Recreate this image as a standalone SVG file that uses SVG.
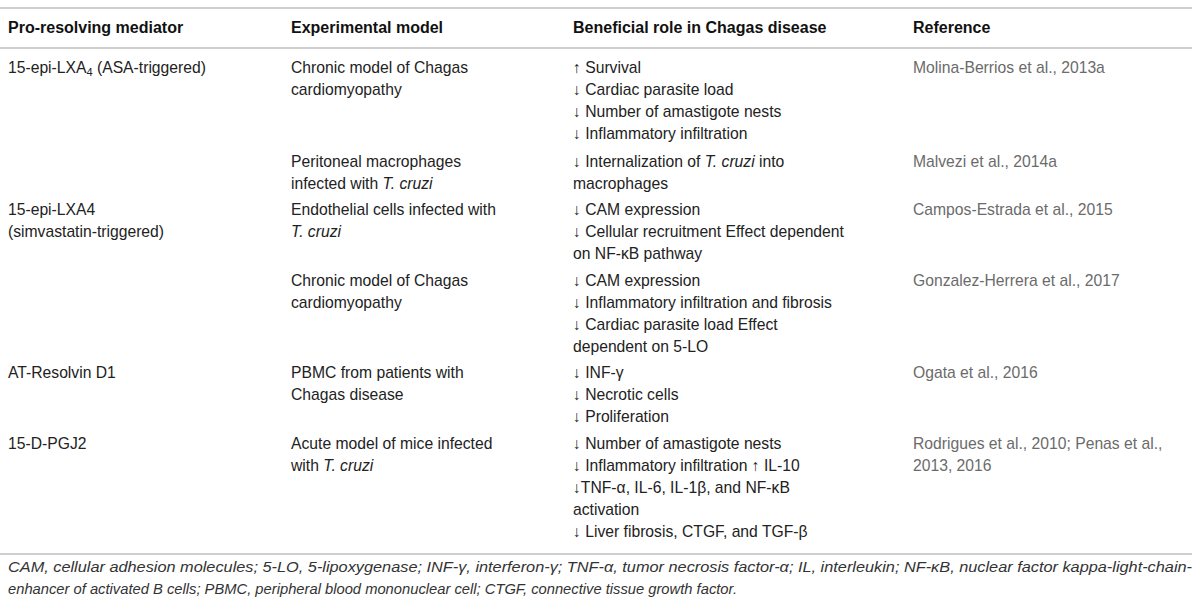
<svg xmlns="http://www.w3.org/2000/svg" width="1200" height="607" viewBox="0 0 1200 607">
<style>
text{font-family:"Liberation Sans",Arial,sans-serif;font-size:15.7px;fill:#222}
.h{font-weight:bold;font-size:16px;fill:#111}
.r{fill:#6b6b6b}
.i{font-style:italic}
.fn{font-style:italic;font-size:14px;fill:#333}
.rule{stroke:#cfcfcf;stroke-width:2}
</style>
<rect width="1200" height="607" fill="#fff"/>
<g id="rules">
<line class="rule" x1="0" y1="8" x2="1192" y2="8"/>
<line class="rule" x1="0" y1="48" x2="1192" y2="48"/>
<line class="rule" x1="0" y1="554" x2="1192" y2="554"/>
</g>
<g id="header">
<text class="h" x="8" y="33">Pro-resolving mediator</text>
<text class="h" x="291" y="33">Experimental model</text>
<text class="h" x="573" y="33">Beneficial role in Chagas disease</text>
<text class="h" x="913" y="33">Reference</text>
</g>
<g id="row1">
<text x="8" y="73">15-epi-LXA<tspan font-size="11" dy="3">4</tspan><tspan dy="-3"> (ASA-triggered)</tspan></text>
<text x="291" y="73">Chronic model of Chagas</text>
<text x="291" y="95">cardiomyopathy</text>
<text x="573" y="73">↑ Survival</text>
<text x="573" y="95">↓ Cardiac parasite load</text>
<text x="573" y="117">↓ Number of amastigote nests</text>
<text x="573" y="139">↓ Inflammatory infiltration</text>
<text class="r" x="913" y="73">Molina-Berrios et al., 2013a</text>
</g>
<g id="row2">
<text x="291" y="167">Peritoneal macrophages</text>
<text x="291" y="189">infected with <tspan class="i">T. cruzi</tspan></text>
<text x="573" y="167">↓ Internalization of <tspan class="i">T. cruzi</tspan> into</text>
<text x="573" y="189">macrophages</text>
<text class="r" x="913" y="167">Malvezi et al., 2014a</text>
</g>
<g id="row3">
<text x="8" y="215">15-epi-LXA4</text>
<text x="8" y="237">(simvastatin-triggered)</text>
<text x="291" y="215">Endothelial cells infected with</text>
<text class="i" x="291" y="237">T. cruzi</text>
<text x="573" y="215">↓ CAM expression</text>
<text x="573" y="237">↓ Cellular recruitment Effect dependent</text>
<text x="573" y="259">on NF-κB pathway</text>
<text class="r" x="913" y="215">Campos-Estrada et al., 2015</text>
</g>
<g id="row4">
<text x="291" y="286">Chronic model of Chagas</text>
<text x="291" y="308">cardiomyopathy</text>
<text x="573" y="286">↓ CAM expression</text>
<text x="573" y="308">↓ Inflammatory infiltration and fibrosis</text>
<text x="573" y="330">↓ Cardiac parasite load Effect</text>
<text x="573" y="352">dependent on 5-LO</text>
<text class="r" x="913" y="286">Gonzalez-Herrera et al., 2017</text>
</g>
<g id="row5">
<text x="8" y="378">AT-Resolvin D1</text>
<text x="291" y="378">PBMC from patients with</text>
<text x="291" y="400">Chagas disease</text>
<text x="573" y="378">↓ INF-γ</text>
<text x="573" y="400">↓ Necrotic cells</text>
<text x="573" y="422">↓ Proliferation</text>
<text class="r" x="913" y="378">Ogata et al., 2016</text>
</g>
<g id="row6">
<text x="8" y="449">15-D-PGJ2</text>
<text x="291" y="449">Acute model of mice infected</text>
<text x="291" y="471">with <tspan class="i">T. cruzi</tspan></text>
<text x="573" y="449">↓ Number of amastigote nests</text>
<text x="573" y="471">↓ Inflammatory infiltration ↑ IL-10</text>
<text x="573" y="493">↓TNF-α, IL-6, IL-1β, and NF-κB</text>
<text x="573" y="515">activation</text>
<text x="573" y="537">↓ Liver fibrosis, CTGF, and TGF-β</text>
<text class="r" x="913" y="449">Rodrigues et al., 2010; Penas et al.,</text>
<text class="r" x="913" y="471">2013, 2016</text>
</g>
<g id="footnote">
<text class="fn" x="8" y="572" textLength="1184" lengthAdjust="spacingAndGlyphs">CAM, cellular adhesion molecules; 5-LO, 5-lipoxygenase; INF-γ, interferon-γ; TNF-α, tumor necrosis factor-α; IL, interleukin; NF-κB, nuclear factor kappa-light-chain-</text>
<text class="fn" x="8" y="594" textLength="729" lengthAdjust="spacingAndGlyphs">enhancer of activated B cells; PBMC, peripheral blood mononuclear cell; CTGF, connective tissue growth factor.</text>
</g>
</svg>
